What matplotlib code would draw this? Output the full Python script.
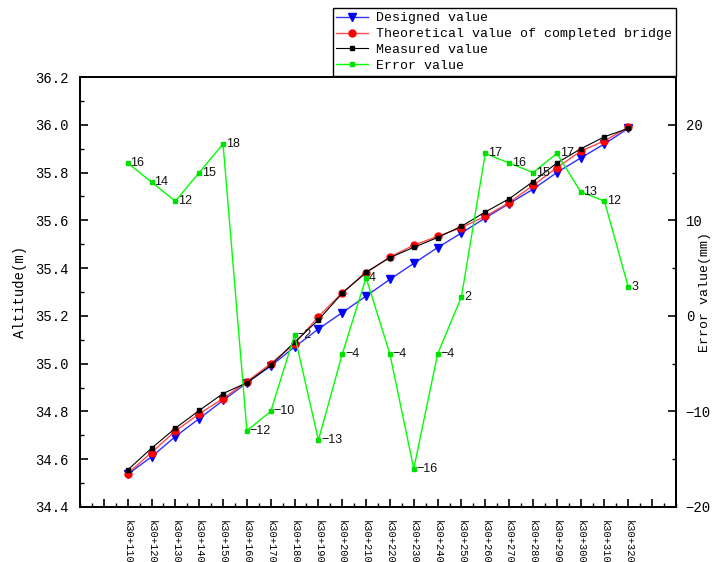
import matplotlib
matplotlib.use("Agg")
import matplotlib.pyplot as plt
from matplotlib.ticker import MultipleLocator

stations = ["k30+110", "k30+120", "k30+130", "k30+140", "k30+150", "k30+160",
            "k30+170", "k30+180", "k30+190", "k30+200", "k30+210", "k30+220",
            "k30+230", "k30+240", "k30+250", "k30+260", "k30+270", "k30+280",
            "k30+290", "k30+300", "k30+310", "k30+320"]
designed = [34.537, 34.610, 34.695, 34.770, 34.846, 34.920, 34.990, 35.070,
            35.145, 35.214, 35.283, 35.353, 35.420, 35.486, 35.547, 35.610,
            35.670, 35.730, 35.800, 35.861, 35.920, 35.985]
theoretical = [34.540, 34.628, 34.718, 34.790, 34.854, 34.925, 35.000, 35.083,
               35.197, 35.297, 35.380, 35.447, 35.496, 35.533, 35.570, 35.617,
               35.674, 35.746, 35.820, 35.889, 35.933, 35.989]
measured = [34.555, 34.646, 34.730, 34.804, 34.875, 34.920, 34.993, 35.090,
            35.183, 35.295, 35.383, 35.444, 35.487, 35.528, 35.575, 35.635,
            35.690, 35.762, 35.840, 35.899, 35.950, 35.985]
error = [16, 14, 12, 15, 18, -12, -10, -2, -13, -4, 4, -4, -16, -4, 2, 17,
         16, 15, 17, 13, 12, 3]

MONO = "Liberation Mono"
x = list(range(len(stations)))

fig = plt.figure(figsize=(7.15, 5.62), dpi=100)
ax = fig.add_axes([80 / 715, 1 - 507 / 562, (676 - 80) / 715, (507 - 77) / 562])
ax2 = ax.twinx()

l1, = ax.plot(x, designed, color="#3030ff", lw=1.0, marker="v", ms=5.5,
              mfc="blue", mec="blue", zorder=3)
l2, = ax.plot(x, theoretical, color="#ff4a4a", lw=1.0, marker="o", ms=5,
              mfc="red", mec="red", zorder=4)
l3, = ax.plot(x, measured, color="black", lw=0.8, marker="s", ms=2.5,
              zorder=5)
l4, = ax2.plot(x, error, color="#00ff00", lw=1.0, marker="s", ms=2.5,
               mec="#00e000", mfc="#00e000")
for xi, e in zip(x, error):
    ax2.annotate(f"{e}".replace("-", "\u2212"), (xi, e), xytext=(2, 0),
                 textcoords="offset points", ha="left", va="center",
                 fontsize=9, family="Liberation Sans", color="#111111")

ax.set_xlim(-2, 23)
ax.set_ylim(34.4, 36.2)
ax2.set_ylim(-20, 25)

ax.set_xticks(range(-1, 23))
ax.set_xticklabels([""] + stations + [""], rotation=-90, family=MONO, fontsize=7.5)
ax.xaxis.set_minor_locator(MultipleLocator(0.5))
ax.set_yticks([34.4 + 0.2 * i for i in range(10)])
ax.set_yticklabels([f"{34.4 + 0.2 * i:.1f}" for i in range(10)], family=MONO, fontsize=10)
ax.yaxis.set_minor_locator(MultipleLocator(0.1))
ax2.set_yticks([-20, -10, 0, 10, 20])
ax2.set_yticklabels(["\u221220", "\u221210", "0", "10", "20"], family=MONO, fontsize=10)
ax2.yaxis.set_minor_locator(MultipleLocator(5))

ax.tick_params(axis="both", which="major", direction="in", length=6, width=1.2, pad=8)
ax.tick_params(axis="both", which="minor", direction="in", length=3, width=1.0)
ax.tick_params(axis="x", which="major", pad=9)
ax2.tick_params(axis="y", which="major", direction="in", length=6, width=1.2, pad=7)
ax2.tick_params(axis="y", which="minor", direction="in", length=3, width=1.0)

for a in (ax, ax2):
    for s in a.spines.values():
        s.set_linewidth(1.3)

ax.set_ylabel("Altitude(m)", family=MONO, fontsize=10, labelpad=6)
ax2.set_ylabel("Error value(mm)", family=MONO, fontsize=9.5, rotation=90)
ax2.yaxis.set_label_coords((699 - 80) / 596, 0.5)

leg = ax2.legend([l1, l2, l3, l4],
                 ["Designed value", "Theoretical value of completed bridge",
                  "Measured value", "Error value"],
                 loc="upper right", bbox_to_anchor=(676 / 715, 1 - 8 / 562),
                 bbox_transform=fig.transFigure, prop={"family": MONO, "size": 9.5},
                 frameon=True, fancybox=False, edgecolor="black", framealpha=1,
                 borderpad=0.3, labelspacing=0.28, handlelength=2.4,
                 handletextpad=0.6, borderaxespad=0)
leg.get_frame().set_linewidth(1.0)

fig.savefig("out.png", dpi=100)
